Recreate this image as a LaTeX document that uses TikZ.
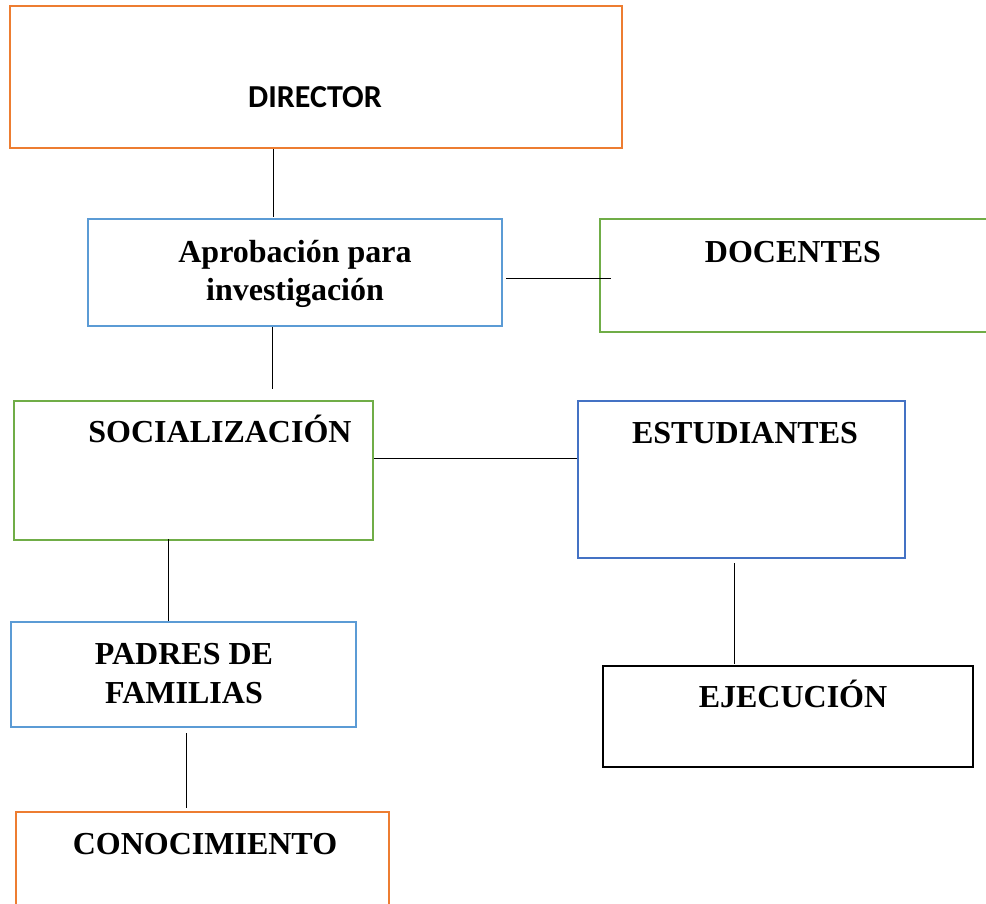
\documentclass[tikz,border=0pt]{standalone}
\usepackage{fontspec}
\setmainfont{Liberation Serif}
\newfontfamily\carlito{Carlito}
\definecolor{boxorange}{RGB}{237,125,49}
\definecolor{boxblue}{RGB}{91,155,213}
\definecolor{boxgreen}{RGB}{112,173,71}
\definecolor{boxdarkblue}{RGB}{68,114,196}
\tikzset{
  orgbox/.style = {draw = #1, line width = 2.4pt, inner sep = 0pt},
  boxtext/.style = {anchor = base, inner sep = 0pt, align = center, font = \fontsize{32}{38}\selectfont\bfseries},
  link/.style = {draw = black, line width = 1pt}
}
\begin{document}
\begin{tikzpicture}[x = 1pt, y = -1pt]
\clip (0,0) rectangle (986,903);
\node[orgbox = boxorange, minimum width = 612pt, minimum height = 142pt] (dir) at (316,77) {};
\node[orgbox = boxblue, minimum width = 414pt, minimum height = 107pt] (apr) at (295,272.5) {};
\node[orgbox = boxgreen, minimum width = 390pt, minimum height = 113pt] (doc) at (795,275.5) {};
\node[orgbox = boxgreen, minimum width = 359pt, minimum height = 139pt] (soc) at (193.5,470.5) {};
\node[orgbox = boxdarkblue, minimum width = 327pt, minimum height = 157pt] (est) at (741.5,479.5) {};
\node[orgbox = boxblue, minimum width = 345pt, minimum height = 105pt] (pad) at (183.5,674.5) {};
\node[orgbox = boxorange, minimum width = 373pt, minimum height = 98pt] (con) at (202.5,861) {};
\node[orgbox = black, line width = 1.3pt, minimum width = 370pt, minimum height = 101pt] (eje) at (788,716.5) {};
\node[boxtext, font = \fontsize{32}{38}\carlito\bfseries] (dirtext) at (315,107) {DIRECTOR};
\node[boxtext] (aprtext) at (295,262) {Aprobación para};
\node[boxtext] (aprtext2) at (295,300) {investigación};
\node[boxtext] (doctext) at (793,262) {DOCENTES};
\node[boxtext] (soctext) at (220,442) {SOCIALIZACIÓN};
\node[boxtext] (esttext) at (745,443) {ESTUDIANTES};
\node[boxtext] (padtext) at (184,664) {PADRES DE};
\node[boxtext] (padtext2) at (184,703) {FAMILIAS};
\node[boxtext] (context) at (205,854) {CONOCIMIENTO};
\node[boxtext] (ejetext) at (793,707) {EJECUCIÓN};
\draw[link] ([xshift = -43pt]dir.south) -- ([xshift = -22pt, yshift = 1pt]apr.north);
\draw[link] ([xshift = 3pt, yshift = -5.5pt]apr.east) -- ([xshift = 12pt, yshift = -2.5pt]doc.west);
\draw[link] ([xshift = -23pt]apr.south) -- ([xshift = 78.5pt, yshift = 11pt]soc.north);
\draw[link] ([yshift = 12.5pt]soc.east) -- ([yshift = 21.5pt]est.west);
\draw[link] ([xshift = -25.5pt, yshift = 2pt]soc.south) -- ([xshift = -15.5pt]pad.north);
\draw[link] ([xshift = -7.5pt, yshift = -4pt]est.south) -- ([xshift = -54pt, yshift = 1pt]eje.north);
\draw[link] ([xshift = 2.5pt, yshift = -5pt]pad.south) -- ([xshift = -16.5pt, yshift = 3pt]con.north);
\end{tikzpicture}
\end{document}
